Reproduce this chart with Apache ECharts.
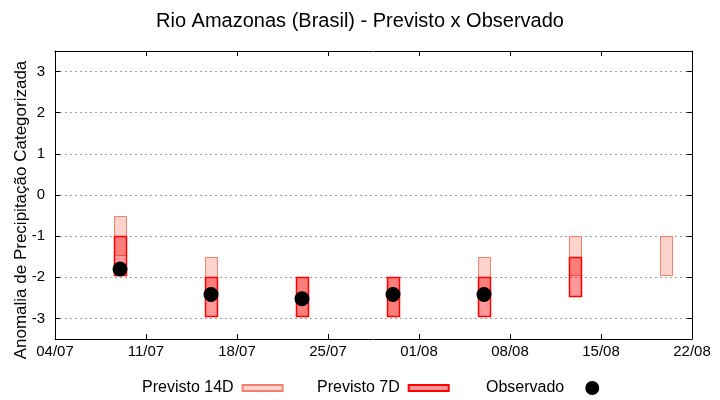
<!DOCTYPE html>
<html>
<head>
<meta charset="utf-8">
<script src="https://cdn.jsdelivr.net/npm/echarts@6/dist/echarts.min.js"></script>
<style>html,body{margin:0;padding:0;background:#fff}#c{width:720px;height:400px}</style>
</head>
<body>
<div id="c"></div>
<script>
// ---- data ----
const startDate = '04/07';
const tickLabels = ['04/07', '11/07', '18/07', '25/07', '01/08', '08/08', '15/08', '22/08'];
const dates = ['09/07', '16/07', '23/07', '30/07', '06/08', '13/08', '20/08'];
const prev14Top = [-0.5, -1.5, -2.0, -2.0, -1.5, -1.0, -1.0];
const prev14Bottom = [-1.45, -2.5, -2.95, -2.95, -2.5, -1.95, -1.95];
const prev7Top = [-1.0, -2.0, -2.0, -2.0, -2.0, -1.5, null];
const prev7Bottom = [-1.95, -2.95, -2.95, -2.95, -2.95, -2.45, null];
const observed = [-1.8, -2.42, -2.52, -2.42, -2.42, null, null];

// ---- helpers ----
function dayOffset(s) {
  const [d, m] = s.split('/').map(Number);
  const [d0, m0] = startDate.split('/').map(Number);
  return (Date.UTC(2024, m - 1, d) - Date.UTC(2024, m0 - 1, d0)) / 86400000;
}
const xs = dates.map(dayOffset);
function rangeData(tops, bottoms) {
  const out = [];
  xs.forEach((x, i) => { if (tops[i] != null && bottoms[i] != null) out.push([x, bottoms[i], tops[i]]); });
  return out;
}
const obsData = [];
xs.forEach((x, i) => { if (observed[i] != null) obsData.push([x, observed[i]]); });

const FONT = '"Liberation Sans", Arial, sans-serif';
const fill14 = 'rgba(250,128,114,0.35)', stroke14 = '#f4806f';
const fill7 = 'rgba(255,0,0,0.4)', stroke7 = '#ff0000';

function makeRender(fill, stroke, lw) {
  return function (params, api) {
    const x = api.value(0), lo = api.value(1), hi = api.value(2);
    const p1 = api.coord([x, hi]);
    const p2 = api.coord([x, lo]);
    const w = api.size([0.92, 0])[0];
    return {
      type: 'rect',
      shape: { x: Math.round(p1[0] - w / 2) + 0.5, y: Math.round(p1[1]) + 0.5, width: Math.round(w), height: Math.round(p2[1] - p1[1]) },
      style: { fill: fill, stroke: stroke, lineWidth: lw }
    };
  };
}

const chart = echarts.init(document.getElementById('c'), null, { renderer: 'canvas' });
const axisCommon = {
  axisLine: { show: true, onZero: false, lineStyle: { color: '#000', width: 1 } },
  axisTick: { show: true, inside: true, length: 5, lineStyle: { color: '#000', width: 1 } }
};
chart.setOption({
  animation: false,
  backgroundColor: '#fff',
  textStyle: { fontFamily: FONT },
  title: {
    text: 'Rio Amazonas (Brasil) - Previsto x Observado',
    left: 'center', top: 6,
    textStyle: { fontSize: 20, fontWeight: 'normal', color: '#000', fontFamily: FONT }
  },
  grid: { left: 55, right: 28, top: 51, bottom: 61, containLabel: false, outerBoundsMode: 'none' },
  legend: [
    { data: [{ name: 'Previsto 14D', icon: 'rect' }], left: 137, top: 375, align: 'right', itemWidth: 40, itemHeight: 6,
      textStyle: { fontSize: 16, color: '#000', fontFamily: FONT, padding: [0, 4, 0, 0] } },
    { data: [{ name: 'Previsto 7D', icon: 'rect' }], left: 312, top: 375, align: 'right', itemWidth: 40, itemHeight: 6,
      textStyle: { fontSize: 16, color: '#000', fontFamily: FONT, padding: [0, 4, 0, 0] } },
    { data: [{ name: 'Observado', icon: 'circle', itemStyle: { opacity: 1 } }], left: 481, top: 375, align: 'right', itemWidth: 40, itemHeight: 14,
      textStyle: { fontSize: 16, color: '#000', fontFamily: FONT, padding: [0, 3, 0, 0] } }
  ],
  xAxis: [
    Object.assign({
      type: 'value', min: 0, max: 49, interval: 7, position: 'bottom',
      splitLine: { show: false },
      axisLabel: { fontSize: 15, color: '#000', margin: 5, fontFamily: FONT, formatter: v => tickLabels[Math.round(v / 7)] }
    }, axisCommon),
    Object.assign({
      type: 'value', min: 0, max: 49, interval: 7, position: 'top',
      splitLine: { show: false }, axisLabel: { show: false }
    }, axisCommon)
  ],
  yAxis: [
    Object.assign({
      type: 'value', min: -3.5, max: 3.5, splitNumber: 7, position: 'left',
      name: 'Anomalia de Precipitação Categorizada', nameLocation: 'middle', nameRotate: 90, nameGap: 25,
      nameMoveOverlap: false,
      nameTextStyle: { fontSize: 17, color: '#000', fontFamily: FONT, padding: [0, 30, 0, 0] },
      splitLine: { show: true, lineStyle: { color: '#a0a0a0', type: [2, 3], width: 1 } },
      axisLabel: { fontSize: 15, color: '#000', margin: 10, fontFamily: FONT, showMinLabel: false, showMaxLabel: false }
    }, axisCommon),
    Object.assign({
      type: 'value', min: -3.5, max: 3.5, splitNumber: 7, position: 'right',
      splitLine: { show: false }, axisLabel: { show: false }
    }, axisCommon)
  ],
  series: [
    { name: 'Previsto 14D', type: 'custom', renderItem: makeRender(fill14, stroke14, 1),
      itemStyle: { color: fill14, borderColor: stroke14, borderWidth: 1 },
      encode: { x: 0, y: [1, 2] }, data: rangeData(prev14Top, prev14Bottom), z: 2 },
    { name: 'Previsto 7D', type: 'custom', renderItem: makeRender(fill7, stroke7, 1.5),
      itemStyle: { color: fill7, borderColor: stroke7, borderWidth: 1.5 },
      encode: { x: 0, y: [1, 2] }, data: rangeData(prev7Top, prev7Bottom), z: 3 },
    { name: 'Observado', type: 'scatter', symbol: 'circle', symbolSize: 15,
      itemStyle: { color: '#000', opacity: 1 }, data: obsData, z: 4 }
  ]
});
</script>
</body>
</html>
